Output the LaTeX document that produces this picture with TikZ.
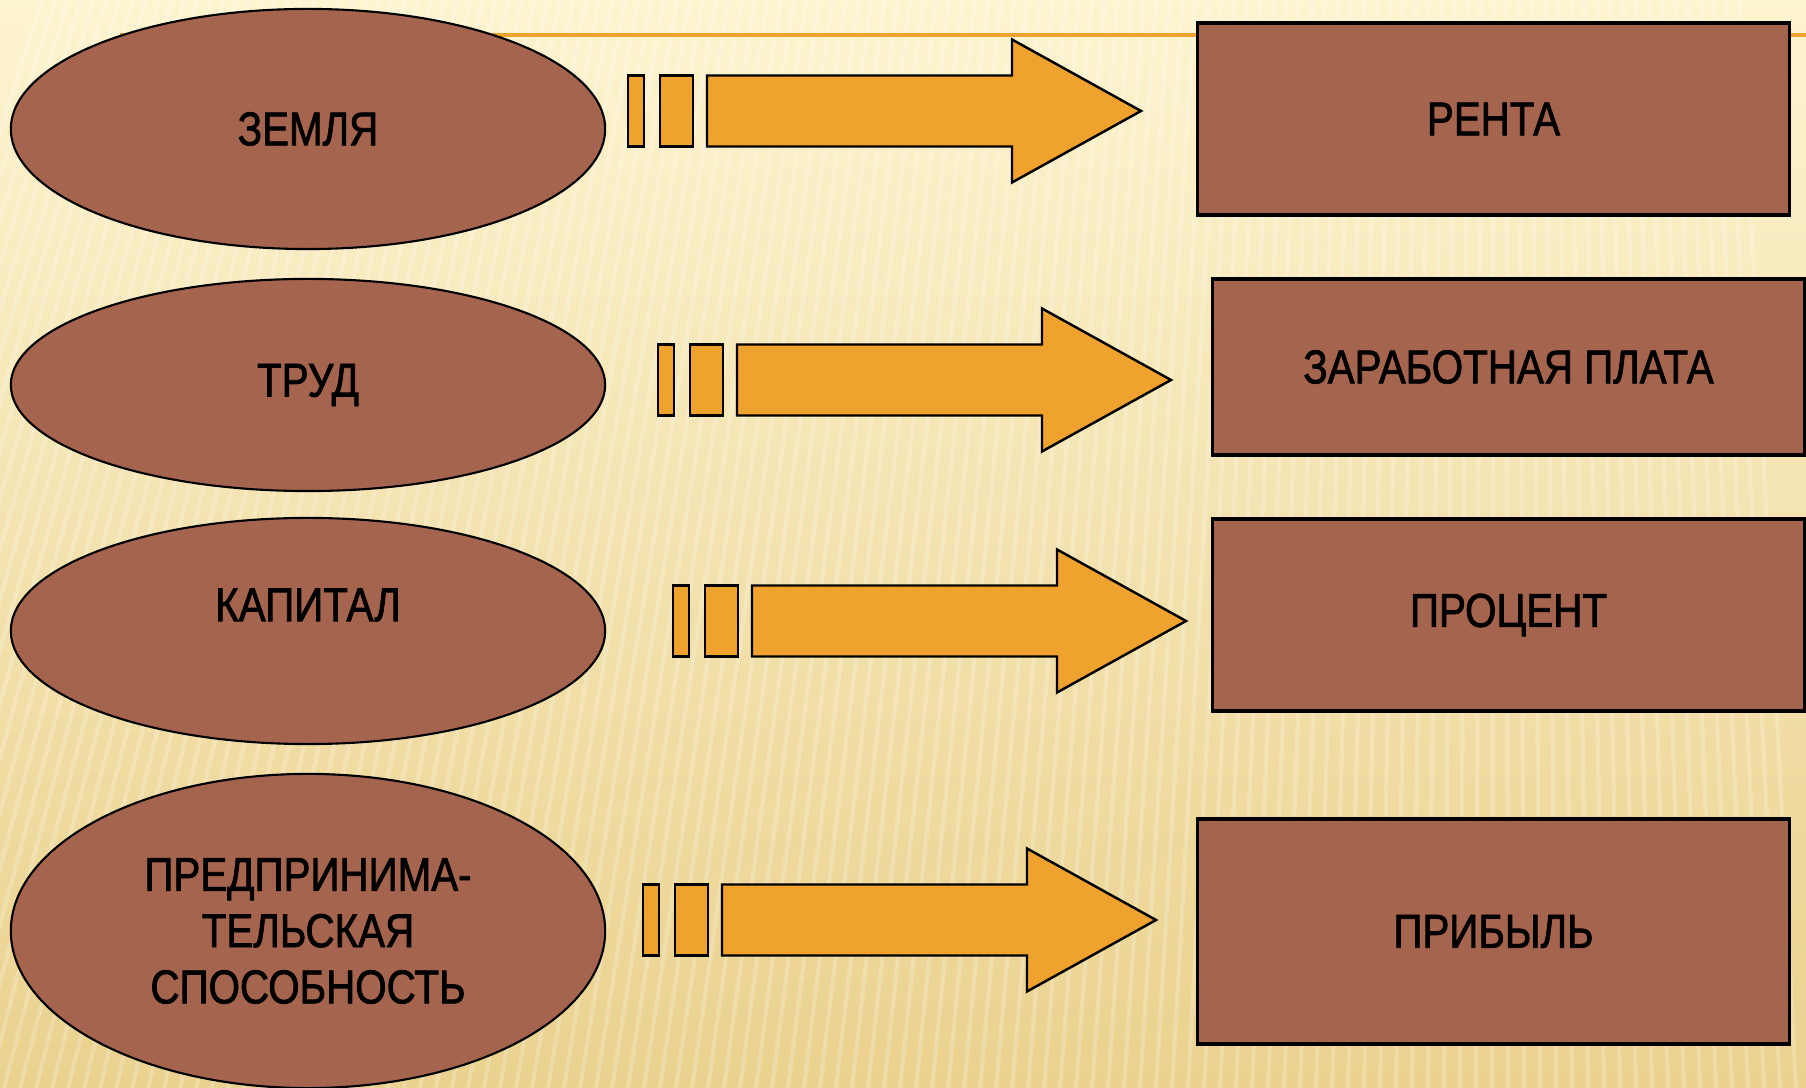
\documentclass[tikz,border=0pt]{standalone}
\usepackage{fontspec}
\setmainfont{Liberation Sans}[FakeStretch=0.85, FakeBold=1.6]
\usetikzlibrary{shapes.geometric}

\definecolor{brick}{RGB}{164,100,78}
\definecolor{amber}{RGB}{240,162,46}
\definecolor{cream}{RGB}{253,244,208}
\definecolor{sand}{RGB}{234,209,142}

\tikzset{
  arrowpart/.style={draw, fill=amber, line width=0.7pt},
  striparrow/.pic={
    \draw[arrowpart] (0,-35.5) rectangle (16,35.5);
    \draw[arrowpart] (32,-35.5) rectangle (65,35.5);
    \draw[arrowpart] (79,-35.5) -- (384,-35.5) -- (384,-71.5) -- (513,0)
      -- (384,71.5) -- (384,35.5) -- (79,35.5) -- cycle;
  },
}

\begin{document}
\begin{tikzpicture}[x=0.01cm, y=0.01cm, font=\fontsize{13.5}{16}\selectfont,
  factor/.style={draw, ellipse, fill=brick, line width=0.6pt, inner sep=0pt, minimum width=5.94cm, align=center},
  income/.style={draw, rectangle, fill=brick, line width=0.9pt, inner sep=0pt, minimum width=5.91cm}]
\useasboundingbox (0,0) rectangle (1806,1088);

% background
\shade[top color=cream, bottom color=sand] (0,0) rectangle (1806,1088);
\foreach \x in {-300,-284,...,1806}
  \draw[white, opacity=0.22, line width=1.2pt] (\x,0) -- ({\x+0.19*(1500-\x)},1088);
\draw[amber, line width=0.9pt] (120,1053) -- (1806,1053);

% factors
\node[factor, minimum height=2.40cm] (zemlya) at (308,959) {ЗЕМЛЯ};
\node[factor, minimum height=2.12cm] (trud) at (308,703) {ТРУД};
\node[factor, minimum height=2.26cm, label={[yshift=0.26cm]center:КАПИТАЛ}] (kapital) at (308,457) {};
\node[factor, minimum height=3.14cm] (predpr) at (308,157) {ПРЕДПРИНИМА-\\ТЕЛЬСКАЯ\\СПОСОБНОСТЬ};

% incomes
\node[income, minimum height=1.92cm] (renta) at (1493.5,969) {РЕНТА};
\node[income, minimum height=1.76cm] (zarplata) at (1508.5,721) {ЗАРАБОТНАЯ ПЛАТА};
\node[income, minimum height=1.92cm] (procent) at (1508.5,473) {ПРОЦЕНТ};
\node[income, minimum height=2.25cm] (pribyl) at (1493.5,156.5) {ПРИБЫЛЬ};

% arrows
\pic at (628,977) {striparrow};
\pic at (658,708) {striparrow};
\pic at (673,467) {striparrow};
\pic at (643,168) {striparrow};
\end{tikzpicture}
\end{document}
